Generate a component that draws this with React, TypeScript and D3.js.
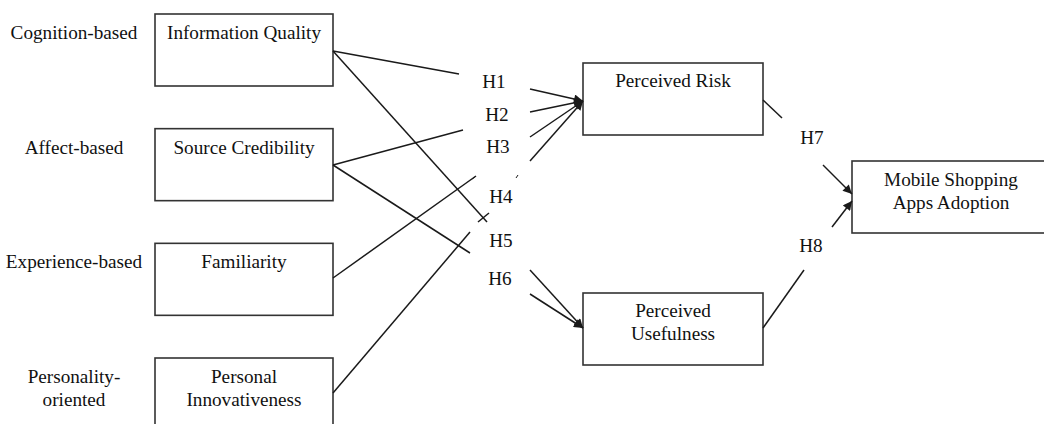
import React from 'react';
import * as d3 from 'd3';

// ---- data ----
const bases = [['Cognition-based'], ['Affect-based'], ['Experience-based'], ['Personality-', 'oriented']];
const antecedents = [['Information Quality'], ['Source Credibility'], ['Familiarity'], ['Personal', 'Innovativeness']];
const mediators = [['Perceived Risk'], ['Perceived', 'Usefulness']];
const outcome = ['Mobile Shopping', 'Apps Adoption'];

// hypothesis -> [from antecedent index, to mediator index]
const hypLabels = ['H1', 'H2', 'H3', 'H4', 'H5', 'H6', 'H7', 'H8'];
const hypFrom = [0, 1, 2, 3, 0, 1];
const hypTo = [0, 0, 0, 0, 1, 1];

// ---- layout ----
const W = 1044;
const H = 424;
const rowY = d3.scaleLinear().domain([0, 3]).range([14, 358]);
const colX = d3.scaleOrdinal<string, number>().domain(['base', 'ante', 'med', 'out']).range([74, 155, 583, 852]);
const boxW = 178;
const boxH = 72;
const medTop = [63, 293];
const outTop = 161;
const fs = 19.2;
const lineGap = 23;

// where each incoming line is cut (end of source segment) and where the arrow segment starts
const cutIn: [number, number][] = [[459, 74], [463, 130], [476, 176], [470, 232], [487, 222], [470, 253]];
const cutOut: [number, number][] = [[530, 89], [530, 112], [530, 137], [530, 161], [530, 270], [530, 294]];
const hypPos: [number, number][] = [[494, 88], [497, 121], [498, 153], [501, 203], [501, 247], [500, 285], [812, 144], [811, 252]];

const antAnchorY = [51, 165, 278, 393];
const medIn: [number, number][] = [[583, 101], [583, 328]];
const medOut: [number, number][] = [[763, 100], [763, 328]];
const outCut: [number, number][] = [[782, 118], [804, 270]];
const outStart: [number, number][] = [[823, 165], [832, 227]];
const outIn: [number, number][] = [[852, 194], [852, 201]];

const ink = '#1a1a1a';
const font = '"Liberation Serif", "Times New Roman", serif';

const Lines: React.FC<{ lines: string[]; x: number; y: number }> = ({ lines, x, y }) => (
  <text x={x} y={y} textAnchor="middle" fontFamily={font} fontSize={fs} fill="#111">
    {lines.map((l, i) => (
      <tspan key={i} x={x} dy={i === 0 ? 0 : lineGap}>{l}</tspan>
    ))}
  </text>
);

const seg = (a: [number, number], b: [number, number]) => d3.line()([a, b]) as string;

export default function App() {
  const antX = colX('ante');
  const medX = colX('med');
  const outX = colX('out');
  return (
    <svg width={W} height={H} style={{ position: 'absolute', left: 0, top: 0, background: '#fff' }}>
      <defs>
        <marker id="arr" viewBox="0 0 10 10" refX="10" refY="5" markerWidth="11" markerHeight="9"
          markerUnits="userSpaceOnUse" orient="auto">
          <path d="M0,0 L10,5 L0,10 z" fill={ink} />
        </marker>
      </defs>
      <rect width={W} height={H} fill="#fff" />

      {/* base labels */}
      {bases.map((b, i) => (
        <Lines key={i} lines={b} x={colX('base')} y={rowY(i) + 25} />
      ))}

      {/* antecedent boxes */}
      {antecedents.map((a, i) => (
        <g key={i}>
          <rect x={antX} y={rowY(i)} width={boxW} height={boxH} fill="none" stroke="#333" strokeWidth={1.6} />
          <Lines lines={a} x={antX + boxW / 2} y={rowY(i) + 25} />
        </g>
      ))}

      {/* mediators */}
      {mediators.map((m, i) => (
        <g key={i}>
          <rect x={medX} y={medTop[i]} width={180} height={boxH} fill="none" stroke="#333" strokeWidth={1.6} />
          <Lines lines={m} x={medX + 90} y={medTop[i] + 24} />
        </g>
      ))}

      {/* outcome */}
      <rect x={outX} y={outTop} width={200} height={boxH} fill="none" stroke="#333" strokeWidth={1.6} />
      <Lines lines={outcome} x={951} y={outTop + 25} />

      {/* H1-H6 paths */}
      <g stroke={ink} strokeWidth={1.5} fill="none">
        {hypFrom.map((f, i) => (
          <g key={i}>
            <path d={seg([antX + boxW, antAnchorY[f]], cutIn[i])} />
            <path d={seg(cutOut[i], medIn[hypTo[i]])} markerEnd="url(#arr)" />
          </g>
        ))}
        {/* small cross at end of IQ -> PU segment */}
        <path d={seg([478, 222], [489, 213])} />
        {/* small leftover ticks */}
        <path d={seg([472, 179], [475, 177])} strokeWidth={1} />
        <path d={seg([516, 178], [518, 175])} strokeWidth={1} />
        {/* H7 / H8 */}
        {medOut.map((p, i) => (
          <g key={'o' + i}>
            <path d={seg(p, outCut[i])} />
            <path d={seg(outStart[i], outIn[i])} markerEnd="url(#arr)" />
          </g>
        ))}
      </g>

      {/* hypothesis labels */}
      {hypLabels.map((h, i) => (
        <text key={h} x={hypPos[i][0]} y={hypPos[i][1]} textAnchor="middle" fontFamily={font} fontSize={fs} fill="#111">
          {h}
        </text>
      ))}
    </svg>
  );
}
